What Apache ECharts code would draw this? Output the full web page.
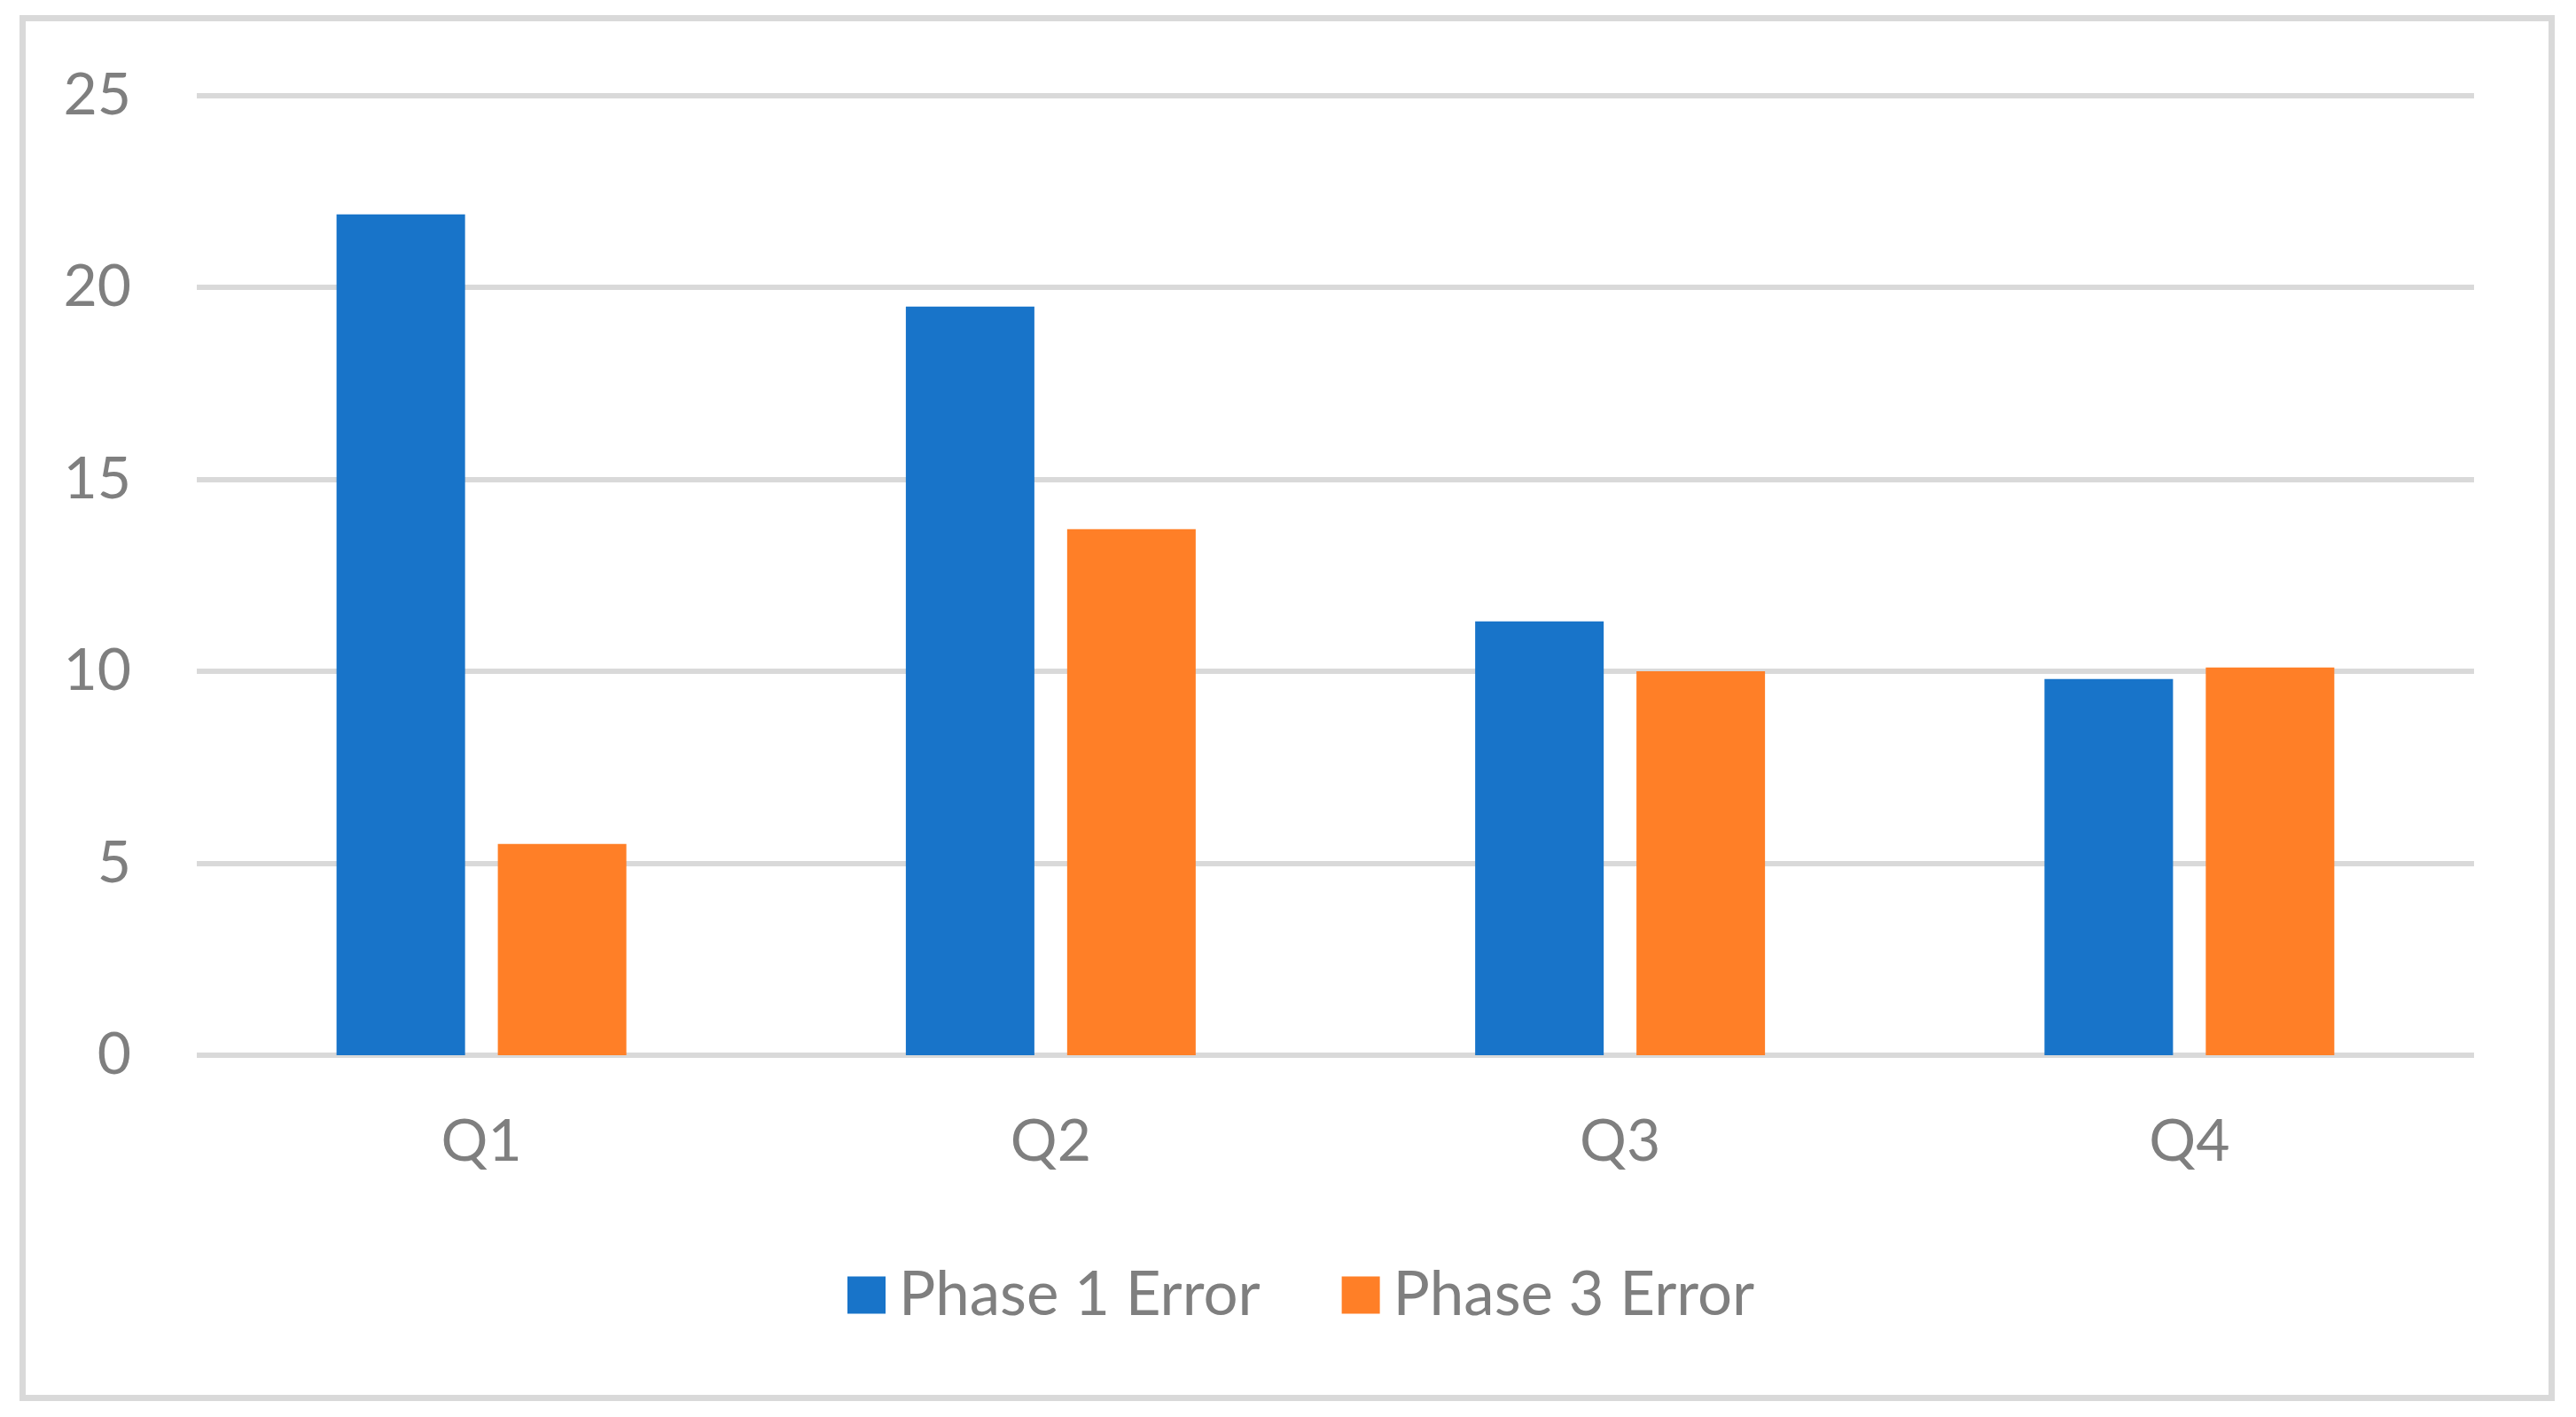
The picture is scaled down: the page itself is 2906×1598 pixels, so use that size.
<!DOCTYPE html>
<html>
<head>
<meta charset="utf-8">
<title>Phase Error by Quarter</title>
<script src="https://cdn.jsdelivr.net/npm/echarts@6/dist/echarts.min.js"></script>
<style>
  html, body { margin: 0; padding: 0; background: #ffffff; }
  #chart { width: 2906px; height: 1598px; }
</style>
</head>
<body>
<div id="chart"></div>
<script>
const quarters = ['Q1', 'Q2', 'Q3', 'Q4'];
const phase1Error = [21.9, 19.5, 11.3, 9.8];
const phase3Error = [5.5, 13.7, 10.0, 10.1];
const seriesNames = ['Phase 1 Error', 'Phase 3 Error'];

const textColor = '#7f7f7f';
const gridColor = '#d9d9d9';
const fontFamily = 'Lato, "Liberation Sans", sans-serif';

const chart = echarts.init(document.getElementById('chart'));

const option = {
  animation: false,
  backgroundColor: '#ffffff',
  graphic: [
    {
      type: 'rect',
      shape: { x: 25.5, y: 20.5, width: 2853, height: 1556 },
      style: { fill: 'none', stroke: gridColor, lineWidth: 7 },
      silent: true
    }
  ],
  legend: {
    data: seriesNames,
    bottom: 103,
    left: 956,
    padding: 0,
    itemWidth: 43,
    itemHeight: 42,
    itemGap: 92,
    icon: 'rect',
    textStyle: {
      color: textColor,
      fontSize: 69,
      fontFamily: fontFamily,
      padding: [0, 0, 0, 10]
    }
  },
  grid: {
    left: 222,
    right: 115,
    top: 107.5,
    bottom: 408
  },
  xAxis: {
    type: 'category',
    data: quarters,
    axisLine: { show: false },
    axisTick: { show: false },
    axisLabel: {
      color: textColor,
      fontSize: 66,
      fontFamily: fontFamily,
      margin: 65
    }
  },
  yAxis: {
    type: 'value',
    min: 0,
    max: 25,
    interval: 5,
    axisLine: { show: false },
    axisTick: { show: false },
    axisLabel: {
      color: textColor,
      fontSize: 66,
      fontFamily: fontFamily,
      margin: 74
    },
    splitLine: {
      lineStyle: { color: gridColor, width: 6 }
    }
  },
  series: [
    {
      name: seriesNames[0],
      type: 'bar',
      data: phase1Error,
      barWidth: 145,
      barGap: '25.5%',
      itemStyle: { color: '#1874c9' }
    },
    {
      name: seriesNames[1],
      type: 'bar',
      data: phase3Error,
      barWidth: 145,
      barGap: '25.5%',
      itemStyle: { color: '#ff7f27' }
    }
  ]
};

chart.setOption(option);
</script>
</body>
</html>
